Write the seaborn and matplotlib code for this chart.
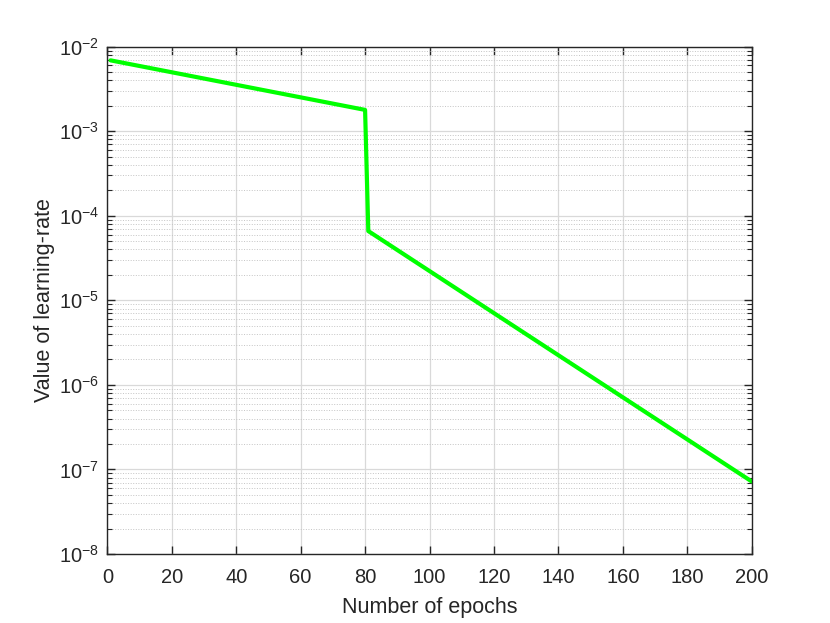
import numpy as np
import pandas as pd
import matplotlib as mpl
mpl.use('Agg')
import seaborn as sns
import matplotlib.pyplot as plt
from matplotlib.ticker import LogLocator, NullFormatter

# learning-rate schedule (vertices of the curve)
epochs = [1, 80, 81, 200]
learning_rate = [6.9e-3, 1.79e-3, 6.6e-5, 7.2e-8]
x_ticks = [0, 20, 40, 60, 80, 100, 120, 140, 160, 180, 200]

sns.set_theme(style="ticks")
plt.rcParams['font.family'] = ['Liberation Sans', 'DejaVu Sans']
plt.rcParams['mathtext.fontset'] = 'custom'
plt.rcParams['mathtext.rm'] = 'Liberation Sans'
plt.rcParams['mathtext.it'] = 'Liberation Sans'

df = pd.DataFrame({'epoch': epochs, 'lr': learning_rate})

fig = plt.figure(figsize=(8.3, 6.23), dpi=100)
ax = fig.add_axes([0.1293, 0.1108, 0.7764, 0.8142])

sns.lineplot(data=df, x='epoch', y='lr', color='#00ff00', linewidth=3, ax=ax)

ax.set_yscale('log')
ax.set_xlim(0, 200)
ax.set_ylim(1e-8, 1e-2)
ax.set_xticks(x_ticks)
ax.yaxis.set_major_locator(LogLocator(base=10, numticks=10))
ax.yaxis.set_minor_locator(LogLocator(base=10, subs=np.arange(2, 10), numticks=20))
ax.yaxis.set_minor_formatter(NullFormatter())

# matlab style grid: solid major, dotted minor on the log axis
ax.grid(which='major', color='#d9d9d9', linestyle='-', linewidth=0.9)
ax.yaxis.grid(which='minor', color='#c4c4c4', linestyle=':', linewidth=0.7)
ax.set_axisbelow(True)

for s in ax.spines.values():
    s.set_color('#262626')
    s.set_linewidth(1.0)

ax.tick_params(which='major', direction='in', length=6, width=1, colors='#262626',
               top=True, right=True, labelsize=14.5)
ax.tick_params(which='minor', direction='in', length=3.5, width=0.8, colors='#262626',
               top=False, right=True)
ax.tick_params(axis='x', which='minor', bottom=False, top=False)
ax.tick_params(axis='x', pad=10)
ax.tick_params(axis='y', pad=6)

ax.set_xlabel('Number of epochs', fontsize=15.5, color='#262626', labelpad=7)
ax.set_ylabel('Value of learning-rate', fontsize=15.5, color='#262626', labelpad=3)

fig.savefig('out.png', dpi=100)
